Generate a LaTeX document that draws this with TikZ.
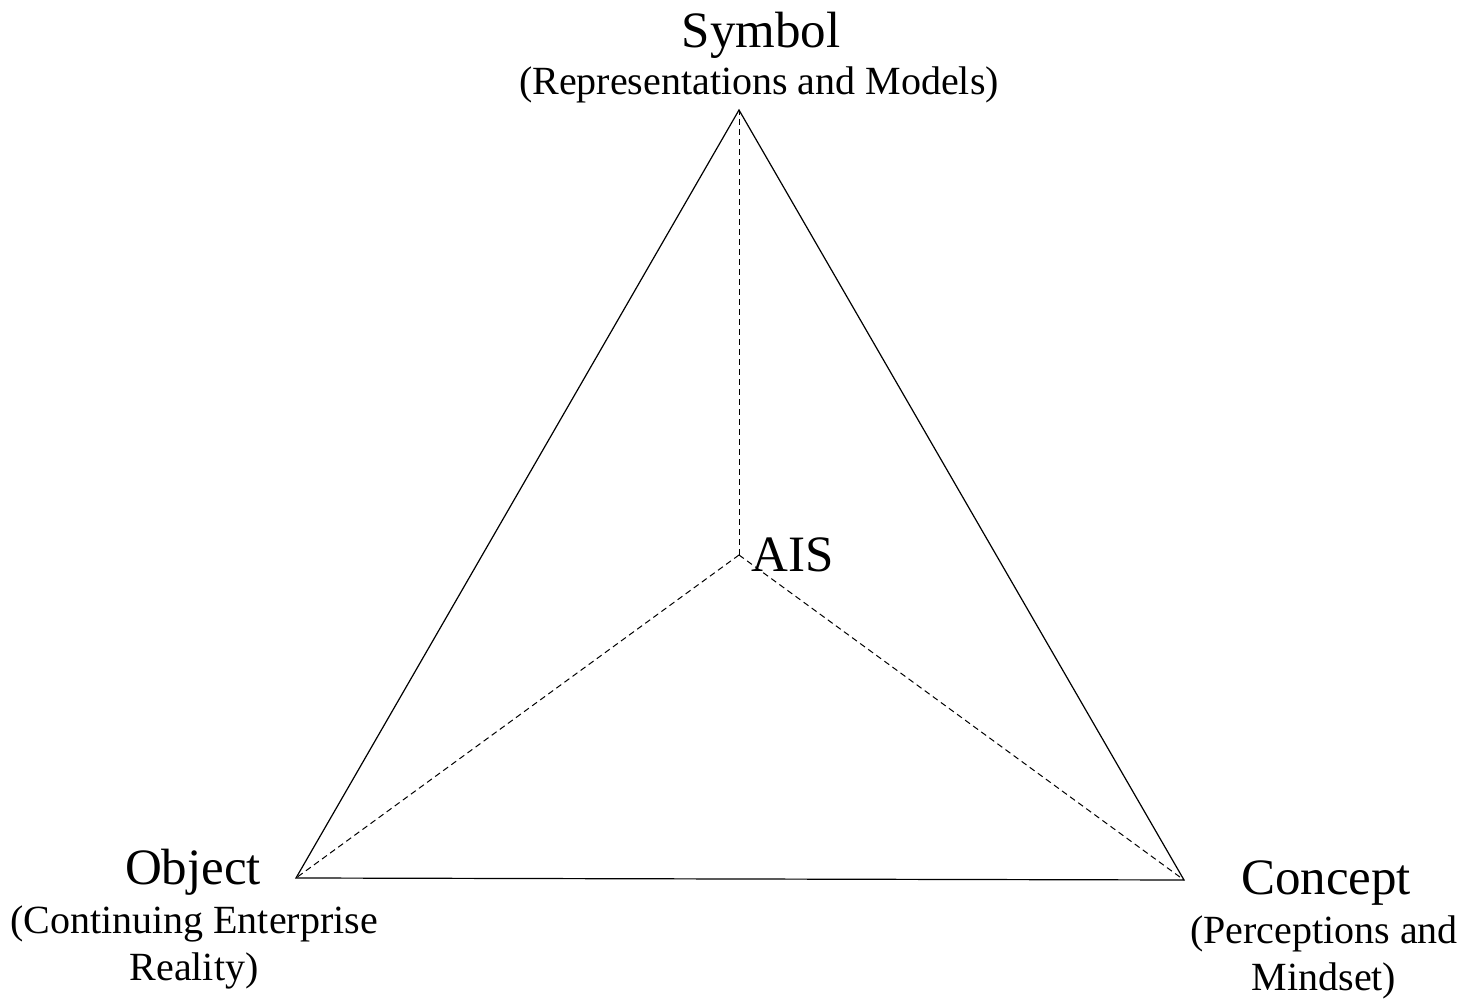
\documentclass[tikz,border=0pt]{standalone}
\usepackage{fontspec}
\setmainfont{Liberation Serif}
\usetikzlibrary{positioning}
\tikzset{
  corner/.style={font=\fontsize{25.5}{28}\selectfont,inner sep=0pt,anchor=base},
  gloss/.style={font=\fontsize{20}{23.5}\selectfont,inner sep=0pt,align=center,anchor=north},
  edge/.style={line width=0.6pt},
  spoke/.style={line width=0.5pt,dash pattern=on 3pt off 2pt}
}
\begin{document}
\begin{tikzpicture}[x=0.5pt,y=-0.5pt]
    \useasboundingbox (0,0) rectangle (1468,1004);
    % vertices of the triangle
    \coordinate (sym) at (739,110);
    \coordinate (obj) at (296,878);
    \coordinate (con) at (1184,880);
    \coordinate (ais) at (739,555);
    % sides
    \draw[edge] (sym) -- (obj) -- (con) -- cycle;
    % spokes to the centre
    \draw[spoke] (ais) -- (sym);
    \draw[spoke] (ais) -- (obj);
    \draw[spoke] (ais) -- (con);
    % labels
    \node[corner] (symlbl) at (761,48) {Symbol};
    \node[gloss,anchor=base] (symsub) at (759,95) {(Representations and Models)};
    \node[corner,anchor=base west] (aislbl) at (751,572) {AIS};
    \node[corner] (objlbl) at (193,885) {Object};
    \node[gloss] (objsub) at (194,905) {(Continuing Enterprise\\Reality)};
    \node[corner] (conlbl) at (1326,895) {Concept};
    \node[gloss] (consub) at (1324,915) {(Perceptions and\\Mindset)};
\end{tikzpicture}
\end{document}
